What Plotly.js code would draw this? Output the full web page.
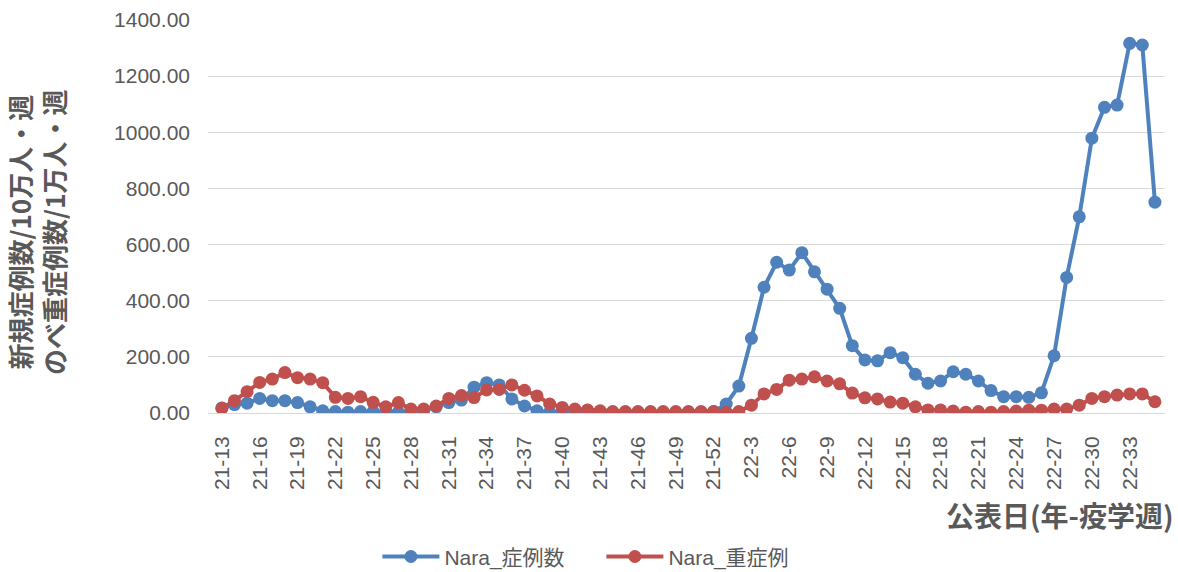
<!DOCTYPE html>
<html>
<head>
<meta charset="utf-8">
<script src="https://cdn.plot.ly/plotly-3.0.1.min.js"></script>
<style>html,body{margin:0;padding:0;background:#fff;}#chart{width:1178px;height:572px;}</style>
</head>
<body>
<div id="chart"></div>
<script>
const weeks = [
 "21-13","21-14","21-15","21-16","21-17","21-18","21-19","21-20","21-21","21-22",
 "21-23","21-24","21-25","21-26","21-27","21-28","21-29","21-30","21-31","21-32",
 "21-33","21-34","21-35","21-36","21-37","21-38","21-39","21-40","21-41","21-42",
 "21-43","21-44","21-45","21-46","21-47","21-48","21-49","21-50","21-51","21-52",
 "22-1","22-2","22-3","22-4","22-5","22-6","22-7","22-8","22-9","22-10",
 "22-11","22-12","22-13","22-14","22-15","22-16","22-17","22-18","22-19","22-20",
 "22-21","22-22","22-23","22-24","22-25","22-26","22-27","22-28","22-29","22-30",
 "22-31","22-32","22-33","22-34","22-35"
];
const naraCases = [
 18,30,35,52,44,44,37,22,8,5,
 3,5,5,3,3,5,8,22,37,46,
 92,108,100,50,25,8,3,3,2,2,
 2,2,2,2,2,2,2,3,3,5,
 32,96,266,448,537,509,571,503,441,373,
 240,189,186,215,197,138,106,114,147,138,
 114,80,58,58,56,72,204,483,699,979,
 1089,1097,1317,1311,751
];
const naraSevere = [
 17,44,76,109,121,144,126,121,108,56,
 52,58,38,22,37,14,14,25,52,62,
 55,82,84,100,81,61,32,20,14,11,
 8,5,5,5,5,5,5,5,5,5,
 3,5,28,68,84,117,121,129,114,104,
 71,54,50,39,35,22,11,11,7,3,
 5,3,5,7,10,10,14,14,28,52,
 58,64,68,68,40
];
const tickWeeks = weeks.filter((w, i) => i % 3 === 0);

const FONT = "'Liberation Sans', 'Noto Sans CJK JP', sans-serif";
const CJK = "'Noto Sans CJK JP', 'Liberation Sans', sans-serif";

const traces = [
  {x: weeks, y: naraCases, name: "Nara_症例数", type: "scatter", mode: "lines+markers",
   line: {color: "#4F81BD", width: 4}, marker: {color: "#4F81BD", size: 13}},
  {x: weeks, y: naraSevere, name: "Nara_重症例", type: "scatter", mode: "lines+markers",
   line: {color: "#C0504D", width: 4}, marker: {color: "#C0504D", size: 13}}
];

const layout = {
  width: 1178, height: 572,
  margin: {l: 208, r: 13, t: 20, b: 159, autoexpand: false},
  paper_bgcolor: "#ffffff", plot_bgcolor: "#ffffff",
  font: {family: FONT, color: "#595959"},
  showlegend: true,
  legend: {orientation: "h", x: 0.177, xref: "paper", xanchor: "left", y: -0.366, yanchor: "middle",
           font: {family: FONT, size: 21, color: "#595959"}, itemwidth: 57, entrywidth: 152,
           traceorder: "normal"},
  xaxis: {
    type: "category", range: [-1.1, 74.8], automargin: false,
    tickmode: "array", tickvals: tickWeeks, ticktext: tickWeeks,
    tickangle: -90, tickfont: {family: FONT, size: 21, color: "#595959"},
    ticks: "", ticklabelstandoff: 14,
    showgrid: false, showline: true, linecolor: "#D9D9D9", linewidth: 1,
    zeroline: false, fixedrange: true
  },
  yaxis: {
    range: [0, 1400], tickmode: "array", automargin: false,
    tickvals: [0,200,400,600,800,1000,1200,1400],
    tickformat: ".2f", tickfont: {family: FONT, size: 21, color: "#595959"},
    ticks: "", ticklabelstandoff: 17,
    showgrid: true, gridcolor: "#D9D9D9", gridwidth: 1,
    zeroline: false, showline: false,
    fixedrange: true
  },
  annotations: [
    {text: "<b>新規症例数/10万人・週<br>のべ重症例数/1万人・週</b>", xref: "paper", yref: "paper",
     x: -0.179, y: 0.46, xanchor: "center", yanchor: "middle", textangle: -90, showarrow: false,
     font: {family: CJK, size: 26, color: "#595959"}},
    {text: "<b>公表日(年-疫学週)</b>", xref: "paper", yref: "paper", x: 1.011, y: -0.2595,
     xanchor: "right", yanchor: "middle", showarrow: false,
     font: {family: CJK, size: 28, color: "#595959"}}
  ]
};

Plotly.newPlot("chart", traces, layout, {displayModeBar: false, staticPlot: true});
</script>
</body>
</html>
